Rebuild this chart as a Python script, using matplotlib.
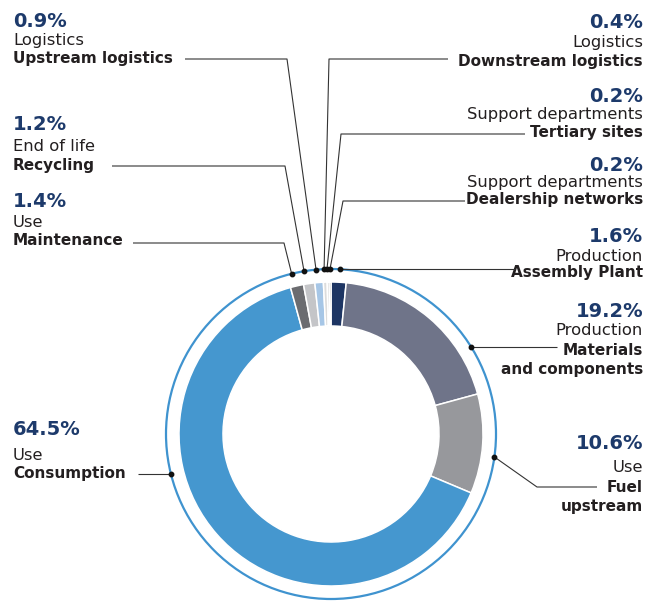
import math
import matplotlib
matplotlib.use("Agg")
import matplotlib.pyplot as plt
from matplotlib.patches import Circle

# ---------------- data ----------------
names = ["Assembly Plant", "Materials\nand components", "Fuel\nupstream", "Consumption",
         "Maintenance", "Recycling", "Upstream logistics", "Downstream logistics",
         "Tertiary sites", "Dealership networks"]
groups = ["Production", "Production", "Use", "Use", "Use", "End of life",
          "Logistics", "Logistics", "Support departments", "Support departments"]
values = [1.6, 19.2, 10.6, 64.5, 1.4, 1.2, 0.9, 0.4, 0.2, 0.2]
pct_labels = ["1.6%", "19.2%", "10.6%", "64.5%", "1.4%", "1.2%", "0.9%", "0.4%", "0.2%", "0.2%"]
colors = ["#1d3563", "#6f7489", "#97989c", "#4597cf", "#6b6c70", "#c4c5c8",
          "#a6c6e6", "#dcdcdc", "#4a4a4a", "#9a9a9a"]

# ---------------- layout ----------------
CX, CY = 331, 434
R_OUT, WIDTH = 152, 44
R_RING = 165
NAVY = "#1d3a6b"
TXT = "#231f20"

# per label: x, ha, pct baseline, group baseline, name baseline
text_pos = [
    (643, "right", 242, 261, 277),
    (643, "right", 317, 335, 355),
    (643, "right", 449, 472, 492),
    (13, "left", 435, 460, 478),
    (13, "left", 207, 227, 245),
    (13, "left", 130, 151, 170),
    (13, "left", 27, 45, 63),
    (643, "right", 28, 47, 66),
    (643, "right", 102, 119, 137),
    (643, "right", 171, 187, 204),
]
# leader: anchor angle on ring (deg clockwise from top), optional elbow, end point
leaders = [
    (3.1, None, (515, None)),
    (58.0, None, (557, None)),
    (98.0, (537, 487), (597, 487)),
    (256.0, None, (138, None)),
    (-13.8, (284, 243), (133, 243)),
    (-9.4, (285, 166), (112, 166)),
    (-5.2, (287, 59), (185, 59)),
    (-2.4, (329, 59), (448, 59)),
    (-1.4, (341, 134), (525, 134)),
    (-0.35, (343, 201), (465, 201)),
]

fig = plt.figure(figsize=(6.49, 6.01), dpi=100)
ax = fig.add_axes([0, 0, 1, 1])

ax.pie(values, colors=colors, startangle=-90, counterclock=True, radius=R_OUT,
       center=(CX, CY), frame=True,
       wedgeprops=dict(width=WIDTH, edgecolor="white", linewidth=1.1))
ax.add_patch(Circle((CX, CY), R_RING, fill=False, ec="#3f93cf", lw=1.6, zorder=3))

ax.set_xlim(0, 649)
ax.set_ylim(601, 0)
ax.set_aspect("equal")
ax.axis("off")

for (ang, elbow, end) in leaders:
    a = math.radians(ang)
    dx, dy = CX + R_RING * math.sin(a), CY - R_RING * math.cos(a)
    ex, ey = end
    if ey is None:
        ey = dy
    xs, ys = [dx], [dy]
    if elbow is not None:
        xs.append(elbow[0]); ys.append(elbow[1])
    xs.append(ex); ys.append(ey)
    ax.plot(xs, ys, color="#333333", lw=0.8, zorder=4, solid_capstyle="butt")
    ax.plot([dx], [dy], "o", color="#111111", ms=3.2, zorder=5)

FONT = "DejaVu Sans"
for i in range(len(values)):
    x, ha, yp, yg, yn = text_pos[i]
    ax.text(x, yp, pct_labels[i], ha=ha, va="baseline", fontsize=14,
            fontweight="bold", color=NAVY, family=FONT)
    ax.text(x, yg, groups[i], ha=ha, va="baseline", fontsize=11.8,
            color=TXT, family=FONT)
    parts = names[i].split("\n")
    for k, p in enumerate(parts):
        ax.text(x, yn + k * 19, p, ha=ha, va="baseline", fontsize=11,
                fontweight="bold", color=TXT, family=FONT)

fig.savefig("out.png", dpi=100, facecolor="white")
